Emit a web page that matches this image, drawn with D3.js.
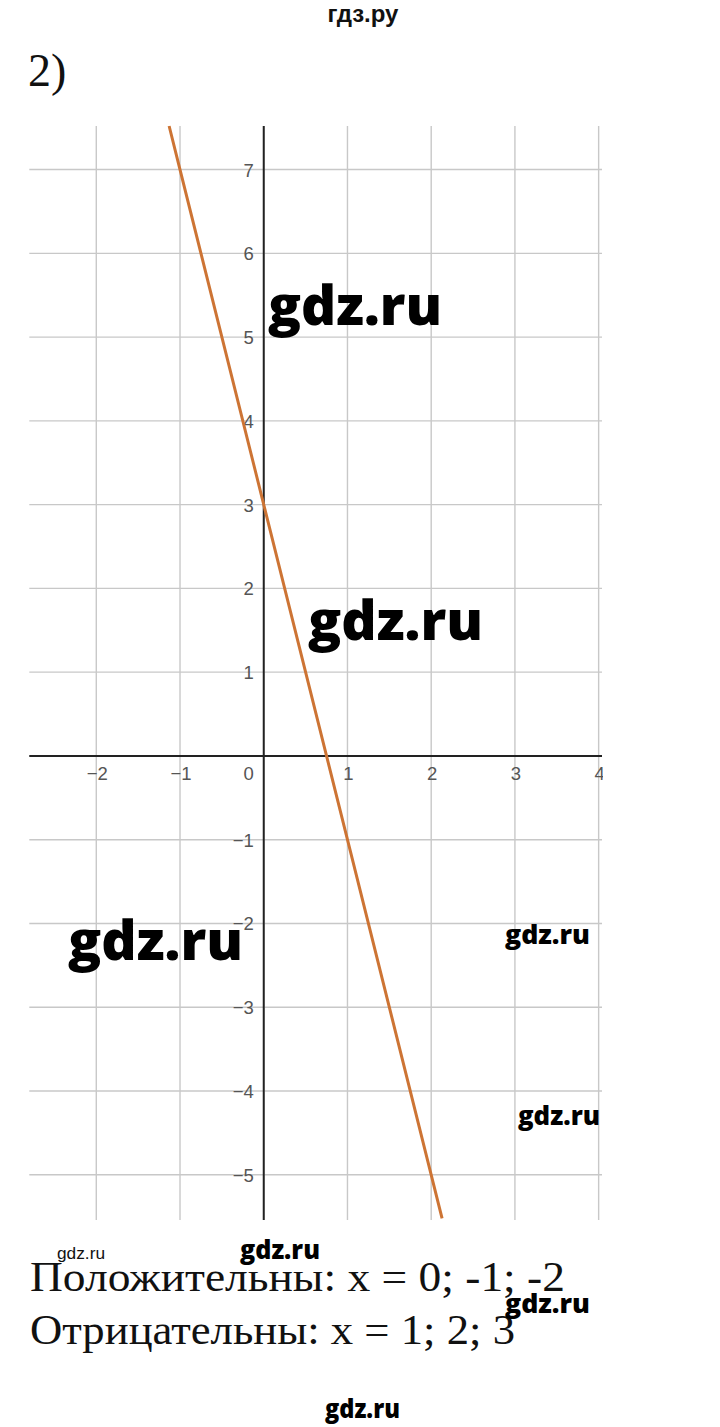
<!DOCTYPE html>
<html>
<head>
<meta charset="utf-8">
<script src="https://cdn.jsdelivr.net/npm/d3@7"></script>
<style>
html,body{margin:0;padding:0;background:#fff;}
svg{display:block;}
</style>
</head>
<body>
<svg id="chart" width="720" height="1427"></svg>
<script>
// Data
const xTicks = [-2, -1, 1, 2, 3, 4];
const yTicks = [-5, -4, -3, -2, -1, 1, 2, 3, 4, 5, 6, 7];
const xGrid = [-2, -1, 0, 1, 2, 3, 4];
const yGrid = [-5, -4, -3, -2, -1, 0, 1, 2, 3, 4, 5, 6, 7];
const lineX = [-1.13, -1, 0, 1, 2, 2.13];
const lineY = [7.52, 7, 3, -1, -5, -5.52];
const xDomain = [-2.8, 4.04];
const yDomain = [-5.54, 7.52];

const svg = d3.select("#chart");
const x = d3.scaleLinear().domain(xDomain).range([29.3, 602]);
const y = d3.scaleLinear().domain(yDomain).range([1220, 126]);

const fmt = v => (v < 0 ? "\u2212" + Math.abs(v) : String(v));

svg.append("defs").append("clipPath").attr("id", "clip")
  .append("rect").attr("x", 0).attr("y", 0).attr("width", 603).attr("height", 1427);

const g = svg.append("g").attr("clip-path", "url(#clip)");

// grid
g.selectAll(".vg").data(xGrid).enter().append("line")
  .attr("x1", d => x(d)).attr("x2", d => x(d))
  .attr("y1", y.range()[1]).attr("y2", y.range()[0])
  .attr("stroke", "#c8c8c8").attr("stroke-width", 1.4);
g.selectAll(".hg").data(yGrid).enter().append("line")
  .attr("y1", d => y(d)).attr("y2", d => y(d))
  .attr("x1", x.range()[0]).attr("x2", x.range()[1])
  .attr("stroke", "#c8c8c8").attr("stroke-width", 1.4);

// axes
g.append("line").attr("x1", x.range()[0]).attr("x2", x.range()[1])
  .attr("y1", y(0)).attr("y2", y(0)).attr("stroke", "#222").attr("stroke-width", 2);
g.append("line").attr("x1", x(0)).attr("x2", x(0))
  .attr("y1", y.range()[1]).attr("y2", y.range()[0]).attr("stroke", "#222").attr("stroke-width", 2);

// tick labels
const lblFont = "'Liberation Sans', Arial, sans-serif";
const ls = 18.5;
g.selectAll(".xl").data(xTicks).enter().append("text")
  .attr("x", d => x(d) + 1).attr("y", y(0) + 24)
  .attr("text-anchor", "middle").attr("font-family", lblFont).attr("font-size", ls)
  .attr("fill", "#555").text(fmt);
g.append("text").attr("x", x(0) - 10).attr("y", y(0) + 24)
  .attr("text-anchor", "end").attr("font-family", lblFont).attr("font-size", ls)
  .attr("fill", "#555").text("0");
g.selectAll(".yl").data(yTicks).enter().append("text")
  .attr("x", x(0) - 10).attr("y", d => y(d) + 7)
  .attr("text-anchor", "end").attr("font-family", lblFont).attr("font-size", ls)
  .attr("fill", "#555").text(fmt);

// function line
const pts = lineX.map((v, i) => [v, lineY[i]]);
g.append("path").datum(pts)
  .attr("d", d3.line().x(d => x(d[0])).y(d => y(d[1])))
  .attr("fill", "none").attr("stroke", "#cd7434").attr("stroke-width", 3);

// header texts
svg.append("text").attr("x", 363).attr("y", 22).attr("text-anchor", "middle")
  .attr("font-family", lblFont).attr("font-weight", "bold").attr("font-size", 24)
  .attr("fill", "#111").text("гдз.ру");
svg.append("text").attr("x", 28).attr("y", 86)
  .attr("font-family", "'Liberation Serif', 'Times New Roman', serif").attr("font-size", 46)
  .attr("fill", "#111").text("2)");

// answer text
const serif = "'Liberation Serif', 'Times New Roman', serif";
svg.append("text").attr("x", 30).attr("y", 1291)
  .attr("font-family", serif).attr("font-size", 43).attr("fill", "#111")
  .attr("textLength", 535).attr("lengthAdjust", "spacingAndGlyphs")
  .text("Положительны: x = 0; -1; -2");
svg.append("text").attr("x", 30).attr("y", 1344)
  .attr("font-family", serif).attr("font-size", 43).attr("fill", "#111")
  .attr("textLength", 485).attr("lengthAdjust", "spacingAndGlyphs")
  .text("Отрицательны: x = 1; 2; 3");

// watermarks
const wm = [
  {x: 268, y: 325, s: 54, w: 174},
  {x: 308, y: 640, s: 54, w: 175},
  {x: 68, y: 960, s: 54, w: 175},
  {x: 505, y: 944, s: 27, w: 85},
  {x: 518, y: 1125, s: 27, w: 82},
  {x: 240, y: 1259, s: 27, w: 80},
  {x: 505, y: 1313, s: 27, w: 85},
  {x: 325, y: 1418, s: 27, w: 75}
];
wm.forEach(d => {
  svg.append("text").attr("x", d.x).attr("y", d.y)
    .attr("font-family", "'Open Sans', 'DejaVu Sans', sans-serif").attr("font-weight", 800)
    .attr("font-size", d.s).attr("textLength", d.w).attr("lengthAdjust", "spacingAndGlyphs")
    .attr("fill", "#000").text("gdz.ru");
});
svg.append("text").attr("x", 57).attr("y", 1259)
  .attr("font-family", lblFont).attr("font-size", 17).attr("textLength", 48)
  .attr("lengthAdjust", "spacingAndGlyphs").attr("fill", "#111").text("gdz.ru");
</script>
</body>
</html>
